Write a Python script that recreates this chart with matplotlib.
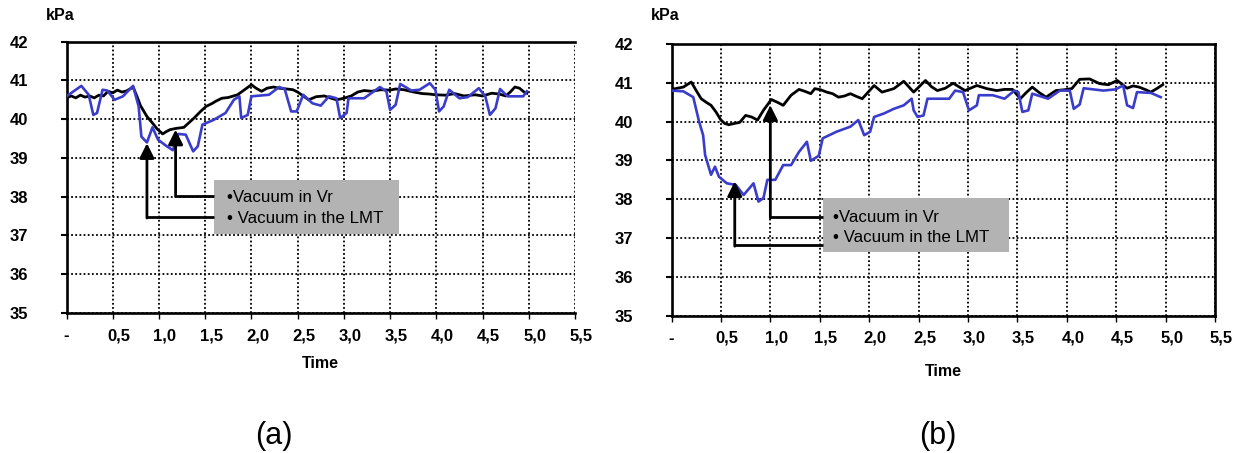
import matplotlib
matplotlib.use("Agg")
import matplotlib.pyplot as plt
import matplotlib.transforms as mtransforms

plt.rcParams['font.family'] = ['Liberation Sans', 'DejaVu Sans']

# ---- panel (a) ----
a_vr_t = [0.00, 0.05, 0.10, 0.15, 0.20, 0.25, 0.30, 0.35, 0.40, 0.45, 0.50, 0.55,
          0.60, 0.65, 0.70, 0.72, 0.76, 0.80, 0.87, 0.93, 0.98, 1.04, 1.08, 1.12,
          1.18, 1.27, 1.32, 1.38, 1.45, 1.51, 1.57, 1.62, 1.68, 1.75, 1.85, 1.92,
          2.00, 2.05, 2.11, 2.17, 2.24, 2.30, 2.38, 2.45, 2.50, 2.56, 2.62, 2.70,
          2.79, 2.85, 2.92, 3.00, 3.08, 3.15, 3.22, 3.30, 3.40, 3.50, 3.56, 3.65,
          3.72, 3.78, 3.85, 3.92, 3.99, 4.10, 4.20, 4.30, 4.42, 4.50, 4.60, 4.68,
          4.75, 4.80, 4.85, 4.90, 4.95, 4.98]
a_vr_v = [40.55, 40.60, 40.55, 40.62, 40.57, 40.60, 40.55, 40.62, 40.60, 40.72, 40.68, 40.75,
          40.70, 40.73, 40.80, 40.83, 40.60, 40.35, 40.07, 39.90, 39.75, 39.62, 39.68, 39.73,
          39.76, 39.79, 39.90, 40.03, 40.20, 40.33, 40.40, 40.47, 40.54, 40.56, 40.63, 40.75,
          40.89, 40.80, 40.72, 40.80, 40.83, 40.80, 40.78, 40.76, 40.70, 40.60, 40.50, 40.58,
          40.60, 40.55, 40.50, 40.54, 40.60, 40.70, 40.74, 40.72, 40.76, 40.75, 40.78, 40.76,
          40.72, 40.69, 40.66, 40.65, 40.63, 40.62, 40.66, 40.60, 40.63, 40.60, 40.67, 40.65,
          40.60, 40.70, 40.83, 40.80, 40.70, 40.67]

a_lmt_t = [0.00, 0.16, 0.24, 0.29, 0.33, 0.39, 0.44, 0.52, 0.61, 0.72, 0.78, 0.81,
           0.87, 0.93, 0.99, 1.08, 1.15, 1.21, 1.29, 1.37, 1.42, 1.47, 1.59, 1.72,
           1.81, 1.87, 1.89, 1.96, 2.00, 2.19, 2.30, 2.36, 2.43, 2.49, 2.56, 2.66,
           2.75, 2.84, 2.92, 2.96, 3.03, 3.05, 3.22, 3.39, 3.46, 3.50, 3.56, 3.61,
           3.73, 3.82, 3.93, 3.99, 4.03, 4.08, 4.14, 4.25, 4.34, 4.46, 4.53, 4.58,
           4.64, 4.69, 4.77, 4.94, 4.98]
a_lmt_v = [40.59, 40.86, 40.63, 40.11, 40.16, 40.76, 40.74, 40.50, 40.59, 40.86, 40.33, 39.55,
           39.40, 39.79, 39.47, 39.31, 39.20, 39.62, 39.60, 39.17, 39.30, 39.86, 39.98, 40.16,
           40.50, 40.59, 40.03, 40.11, 40.59, 40.63, 40.83, 40.78, 40.20, 40.20, 40.63, 40.41,
           40.35, 40.59, 40.54, 40.03, 40.16, 40.54, 40.54, 40.83, 40.72, 40.24, 40.37, 40.91,
           40.74, 40.76, 40.93, 40.76, 40.20, 40.33, 40.76, 40.54, 40.57, 40.80, 40.59, 40.11,
           40.28, 40.78, 40.59, 40.59, 40.72]

# ---- panel (b) ----
b_vr_t = [0.00, 0.06, 0.12, 0.20, 0.25, 0.30, 0.35, 0.40, 0.45, 0.50, 0.54, 0.58,
          0.63, 0.69, 0.75, 0.81, 0.87, 0.93, 1.01, 1.07, 1.13, 1.21, 1.29, 1.35,
          1.41, 1.45, 1.51, 1.57, 1.63, 1.69, 1.75, 1.81, 1.87, 1.93, 2.05, 2.13,
          2.25, 2.35, 2.45, 2.57, 2.63, 2.69, 2.77, 2.85, 2.97, 3.09, 3.19, 3.29,
          3.37, 3.45, 3.53, 3.59, 3.65, 3.72, 3.79, 3.89, 3.97, 4.05, 4.13, 4.23,
          4.33, 4.42, 4.51, 4.61, 4.67, 4.73, 4.80, 4.85, 4.91, 4.97]
b_vr_v = [40.83, 40.86, 40.89, 41.02, 40.80, 40.59, 40.50, 40.42, 40.25, 40.04, 39.95, 39.92,
          39.95, 39.98, 40.16, 40.12, 40.04, 40.29, 40.57, 40.50, 40.42, 40.68, 40.83, 40.78,
          40.72, 40.85, 40.82, 40.76, 40.72, 40.63, 40.66, 40.72, 40.65, 40.59, 40.93, 40.76,
          40.85, 41.04, 40.76, 41.06, 40.90, 40.80, 40.86, 40.99, 40.80, 40.93, 40.85, 40.80,
          40.83, 40.83, 40.59, 40.75, 40.89, 40.75, 40.63, 40.80, 40.82, 40.85, 41.09, 41.10,
          40.98, 40.95, 41.06, 40.86, 40.92, 40.89, 40.82, 40.76, 40.85, 40.95]

b_lmt_t = [0.00, 0.12, 0.22, 0.28, 0.32, 0.34, 0.40, 0.44, 0.48, 0.56, 0.65, 0.73,
           0.83, 0.88, 0.93, 0.97, 1.05, 1.13, 1.21, 1.29, 1.37, 1.41, 1.49, 1.53,
           1.67, 1.81, 1.89, 1.95, 2.01, 2.05, 2.15, 2.25, 2.35, 2.43, 2.45, 2.49,
           2.55, 2.59, 2.81, 2.87, 2.95, 3.01, 3.09, 3.11, 3.25, 3.37, 3.47, 3.51,
           3.55, 3.61, 3.65, 3.81, 3.93, 4.03, 4.07, 4.13, 4.17, 4.37, 4.49, 4.57,
           4.61, 4.67, 4.71, 4.85, 4.95]
b_lmt_v = [40.80, 40.78, 40.63, 39.99, 39.65, 39.14, 38.63, 38.84, 38.58, 38.41, 38.37, 38.11,
           38.41, 37.94, 38.03, 38.50, 38.50, 38.88, 38.88, 39.22, 39.48, 38.99, 39.12, 39.57,
           39.74, 39.87, 40.04, 39.65, 39.74, 40.12, 40.21, 40.33, 40.42, 40.59, 40.29, 40.12,
           40.16, 40.59, 40.59, 40.80, 40.76, 40.29, 40.42, 40.68, 40.68, 40.59, 40.80, 40.76,
           40.25, 40.29, 40.72, 40.59, 40.80, 40.80, 40.33, 40.44, 40.86, 40.80, 40.83, 40.93,
           40.42, 40.35, 40.76, 40.74, 40.63]

x_ticks = [0, 0.5, 1.0, 1.5, 2.0, 2.5, 3.0, 3.5, 4.0, 4.5, 5.0, 5.5]
x_labels = ['-', '0,5', '1,0', '1,5', '2,0', '2,5', '3,0', '3,5', '4,0', '4,5', '5,0', '5,5']
y_ticks = [35, 36, 37, 38, 39, 40, 41, 42]
legend_vr = '\u2022Vacuum in Vr'
legend_lmt = '\u2022 Vacuum in the LMT'

BLUE = '#3a3ccc'
fig = plt.figure(figsize=(12.41, 4.53), dpi=100)


def setup(ax, right_solid):
    ax.set_xlim(0, 5.5)
    ax.set_ylim(35, 42)
    ax.set_xticks(x_ticks)
    ax.set_xticklabels(x_labels)
    ax.set_yticks(y_ticks)
    ax.grid(True, color='black', linestyle=(0, (1, 1.3)), linewidth=1.3)
    for s in ['left', 'bottom', 'top']:
        ax.spines[s].set_linewidth(1.9)
    if right_solid:
        ax.spines['right'].set_linewidth(1.9)
    else:
        ax.spines['right'].set_visible(False)
    ax.tick_params(axis='y', length=4.5, width=1.5, pad=23, labelsize=12)
    ax.tick_params(axis='x', length=4, width=1.0, pad=7, labelsize=12)
    for lab in ax.get_xticklabels() + ax.get_yticklabels():
        lab.set_fontweight('bold')
    off = mtransforms.ScaledTranslation(6 / 100, 0, fig.dpi_scale_trans)
    for lab in ax.get_xticklabels()[1:]:
        lab.set_transform(lab.get_transform() + off)
    ax.set_axisbelow(True)


def callout(ax, box, text_x, text_y, arrows):
    x0, x1, y0, y1 = box
    ax.add_patch(plt.Rectangle((x0, y0), x1 - x0, y1 - y0, facecolor='#b3b3b3',
                               edgecolor='none', zorder=4))
    ax.text(text_x, text_y[0], legend_vr, fontsize=12.2, va='center', ha='left', zorder=5)
    ax.text(text_x, text_y[1], legend_lmt, fontsize=12.2, va='center', ha='left', zorder=5)
    for xa, ya, tip in arrows:
        ax.plot([xa, x0], [ya, ya], color='black', lw=2, zorder=5, solid_capstyle='butt')
        ax.annotate('', xy=(xa, tip), xytext=(xa, ya - 0.02),
                    arrowprops=dict(arrowstyle='-|>', color='black', lw=2,
                                    mutation_scale=22, shrinkA=0, shrinkB=0),
                    zorder=5)


# panel (a)
ax1 = fig.add_axes([0.0536, 0.3091, 0.4097, 0.5989])
setup(ax1, right_solid=False)
ax1.plot(a_vr_t, a_vr_v, color='black', lw=2.0, zorder=3)
ax1.plot(a_lmt_t, a_lmt_v, color=BLUE, lw=1.9, zorder=3)
callout(ax1, (1.59, 3.60, 37.04, 38.43), 1.74, (37.97, 37.45),
        [(1.18, 38.02, 39.73), (0.87, 37.47, 39.38)])
ax1.set_xlabel('Time', fontsize=11.5, fontweight='bold', labelpad=9)
fig.text(60 / 1241, 1 - 16 / 453, 'kPa', fontsize=11.5, fontweight='bold', ha='center', va='center')
fig.text(274 / 1241, 1 - 436 / 453, '(a)', fontsize=22, ha='center', va='center')

# panel (b)
ax2 = fig.add_axes([0.5411, 0.3031, 0.4380, 0.5998])
setup(ax2, right_solid=True)
ax2.plot(b_vr_t, b_vr_v, color='black', lw=2.0, zorder=3)
ax2.plot(b_lmt_t, b_lmt_v, color=BLUE, lw=1.9, zorder=3)
callout(ax2, (1.53, 3.41, 36.64, 38.03), 1.63, (37.52, 37.02),
        [(1.00, 37.54, 40.42), (0.64, 36.81, 38.46)])
ax2.set_xlabel('Time', fontsize=11.5, fontweight='bold', labelpad=13)
fig.text(665 / 1241, 1 - 16 / 453, 'kPa', fontsize=11.5, fontweight='bold', ha='center', va='center')
fig.text(938 / 1241, 1 - 436 / 453, '(b)', fontsize=22, ha='center', va='center')

fig.savefig('out.png', dpi=100)
